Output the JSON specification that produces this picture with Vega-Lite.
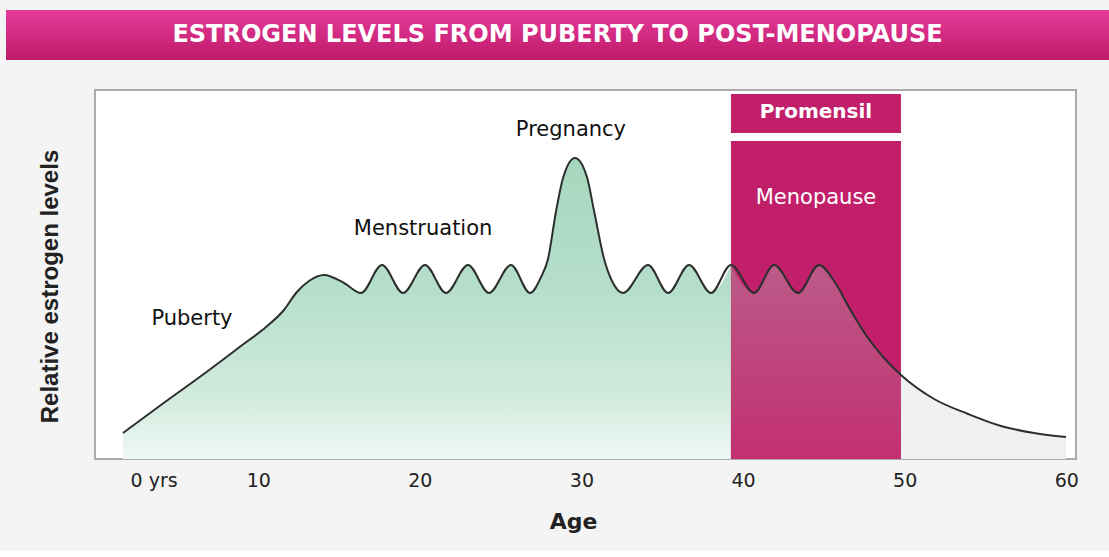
{
  "$schema": "https://vega.github.io/schema/vega-lite/v6.json",
  "background": "#f4f4f4",
  "padding": {"left": 6, "top": 10, "right": 0, "bottom": 18},
  "spacing": 29,
  "config": {"font": "DejaVu Sans"},
  "datasets": {
    "curve": [
      {"age": 1.63, "level": 7.05},
      {"age": 3.98, "level": 14.63},
      {"age": 6.46, "level": 22.49},
      {"age": 8.93, "level": 30.62},
      {"age": 10.48, "level": 35.77},
      {"age": 11.59, "level": 40.38},
      {"age": 12.34, "level": 44.99},
      {"age": 13.14, "level": 48.24},
      {"age": 14.07, "level": 49.86},
      {"age": 15.31, "level": 47.70},
      {"age": 16.36, "level": 44.99},
      {"age": 17.66, "level": 52.57},
      {"age": 18.96, "level": 44.99},
      {"age": 20.32, "level": 52.57},
      {"age": 21.62, "level": 44.99},
      {"age": 22.98, "level": 52.57},
      {"age": 24.28, "level": 44.99},
      {"age": 25.64, "level": 52.57},
      {"age": 26.82, "level": 44.99},
      {"age": 27.50, "level": 49.32},
      {"age": 27.93, "level": 54.20},
      {"age": 28.43, "level": 67.21},
      {"age": 28.86, "level": 76.15},
      {"age": 29.60, "level": 81.57},
      {"age": 30.34, "level": 76.42},
      {"age": 30.78, "level": 67.21},
      {"age": 31.40, "level": 54.20},
      {"age": 31.89, "level": 48.24},
      {"age": 32.57, "level": 44.99},
      {"age": 34.12, "level": 52.57},
      {"age": 35.36, "level": 44.99},
      {"age": 36.66, "level": 52.57},
      {"age": 38.02, "level": 44.99},
      {"age": 39.25, "level": 52.57},
      {"age": 40.68, "level": 44.99},
      {"age": 41.92, "level": 52.57},
      {"age": 43.40, "level": 44.99},
      {"age": 44.70, "level": 52.57},
      {"age": 45.63, "level": 48.24},
      {"age": 46.68, "level": 40.11},
      {"age": 47.73, "level": 32.79},
      {"age": 48.72, "level": 27.37},
      {"age": 49.77, "level": 22.76},
      {"age": 51.82, "level": 16.26},
      {"age": 53.92, "level": 12.20},
      {"age": 55.96, "level": 8.94},
      {"age": 58.00, "level": 7.05},
      {"age": 59.98, "level": 5.96}
    ],
    "boxes": [
      {"name": "Menopause band", "start": 39.25, "end": 49.77, "low": 0, "high": 86.18},
      {"name": "Promensil box", "start": 39.25, "end": 49.77, "low": 88.35, "high": 98.92}
    ],
    "labels": [
      {"label": "Puberty", "age": 5.90, "level": 37.94, "kind": "dark"},
      {"label": "Menstruation", "age": 20.20, "level": 62.33, "kind": "dark"},
      {"label": "Pregnancy", "age": 29.35, "level": 89.16, "kind": "dark"},
      {"label": "Menopause", "age": 44.51, "level": 70.73, "kind": "light"},
      {"label": "Promensil", "age": 44.51, "level": 94.04, "kind": "bold"}
    ]
  },
  "vconcat": [
    {
      "width": 1103,
      "height": 50,
      "view": {"stroke": null},
      "data": {"values": [{"title": "ESTROGEN LEVELS FROM PUBERTY TO POST-MENOPAUSE"}]},
      "layer": [
        {
          "mark": {
            "type": "rect",
            "color": {
              "gradient": "linear", "x1": 0, "y1": 0, "x2": 0, "y2": 1,
              "stops": [{"offset": 0, "color": "#e63b9c"}, {"offset": 1, "color": "#be1a68"}]
            }
          },
          "encoding": {}
        },
        {
          "mark": {"type": "text", "color": "white", "font": "DejaVu Sans", "fontSize": 24, "fontWeight": "bold", "baseline": "middle"},
          "encoding": {"text": {"field": "title"}}
        }
      ]
    },
    {
      "spacing": 0,
      "hconcat": [
        {
          "width": 88,
          "height": 369,
          "view": {"stroke": null},
          "data": {"values": [{"t": "Relative estrogen levels"}]},
          "mark": {"type": "text", "angle": 270, "dx": -12, "dy": 1, "font": "Liberation Sans", "fontSize": 24, "fontWeight": "bold", "color": "#222222", "baseline": "middle"},
          "encoding": {"text": {"field": "t"}}
        },
        {
          "width": 981,
          "height": 369,
          "view": {"fill": "white", "stroke": "#ababab", "strokeWidth": 2},
          "encoding": {
            "x": {
              "field": "age", "type": "quantitative",
              "scale": {"domain": [-0.1, 60.6], "nice": false, "zero": false},
              "axis": {
                "values": [0, 10, 20, 30, 40, 50, 60],
                "labelExpr": "datum.value === 0 ? '0 yrs' : datum.label",
                "domain": false, "ticks": false, "grid": false,
                "labelFont": "DejaVu Sans", "labelFontSize": 19, "labelColor": "#222222",
                "labelPadding": 12, "labelFlush": false, "labelOverlap": false,
                "labelOffset": {"condition": {"test": "datum.value === 0", "value": 57}, "value": 0},
                "title": "Age", "titleFont": "DejaVu Sans", "titleFontSize": 22,
                "titleFontWeight": "bold", "titleColor": "#222222", "titlePadding": 21,
                "titleX": 478
              }
            },
            "y": {
              "field": "level", "type": "quantitative",
              "scale": {"domain": [0, 100], "nice": false},
              "axis": null
            }
          },
          "layer": [
            {
              "data": {"name": "curve"},
              "transform": [{"filter": "datum.age <= 39.25"}],
              "mark": {
                "type": "area", "interpolate": "monotone",
                "color": {
                  "gradient": "linear", "x1": 0, "y1": 0, "x2": 0, "y2": 1,
                  "stops": [
                    {"offset": 0, "color": "#a6d6be"},
                    {"offset": 0.45, "color": "#b6dfcb"},
                    {"offset": 0.8, "color": "#d2ebdf"},
                    {"offset": 1, "color": "#eef8f3"}
                  ]
                }
              }
            },
            {
              "data": {"name": "curve"},
              "transform": [{"filter": "datum.age >= 49.77"}],
              "mark": {"type": "area", "interpolate": "monotone", "color": "#f0f0f0"}
            },
            {
              "data": {"name": "boxes"},
              "mark": {"type": "rect", "color": "#c21f6b"},
              "encoding": {
                "x": {"field": "start", "type": "quantitative"},
                "x2": {"field": "end"},
                "y": {"field": "low", "type": "quantitative"},
                "y2": {"field": "high"}
              }
            },
            {
              "data": {"name": "curve"},
              "transform": [{"filter": "datum.age >= 39.25 && datum.age <= 49.77"}],
              "mark": {
                "type": "area", "interpolate": "monotone",
                "color": {
                  "gradient": "linear", "x1": 0, "y1": 0, "x2": 0, "y2": 1,
                  "stops": [{"offset": 0, "color": "#bb5a88"}, {"offset": 1, "color": "#c3306f"}]
                }
              }
            },
            {
              "data": {"name": "curve"},
              "mark": {"type": "line", "interpolate": "monotone", "color": "#2b2f2d", "strokeWidth": 2}
            },
            {
              "data": {"name": "labels"},
              "transform": [{"filter": "datum.kind === 'dark'"}],
              "mark": {"type": "text", "font": "DejaVu Sans", "fontSize": 21, "color": "#111111", "baseline": "middle"},
              "encoding": {"text": {"field": "label"}}
            },
            {
              "data": {"name": "labels"},
              "transform": [{"filter": "datum.kind === 'light'"}],
              "mark": {"type": "text", "font": "DejaVu Sans", "fontSize": 21, "color": "white", "baseline": "middle"},
              "encoding": {"text": {"field": "label"}}
            },
            {
              "data": {"name": "labels"},
              "transform": [{"filter": "datum.kind === 'bold'"}],
              "mark": {"type": "text", "font": "DejaVu Sans", "fontSize": 20, "fontWeight": "bold", "color": "white", "baseline": "middle"},
              "encoding": {"text": {"field": "label"}}
            }
          ]
        }
      ]
    }
  ]
}
